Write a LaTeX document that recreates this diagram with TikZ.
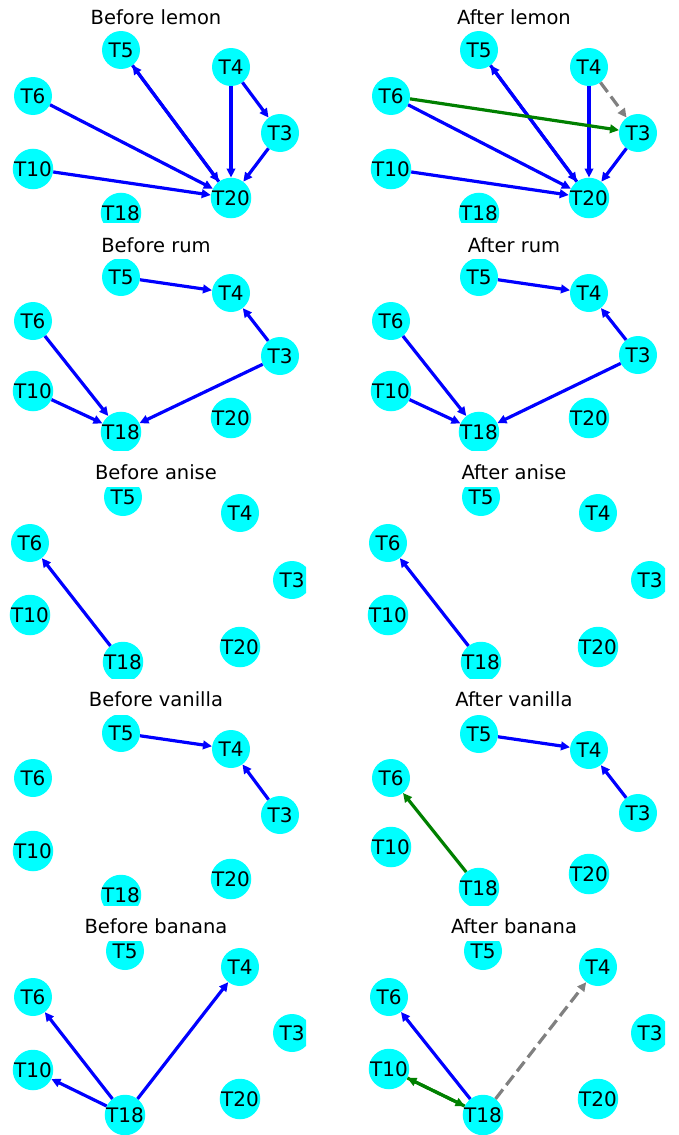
\documentclass[tikz,border=0pt]{standalone}
\usepackage{fontspec}
\setmainfont{DejaVu Sans}
\usetikzlibrary{arrows.meta}

\definecolor{nodecyan}{HTML}{00FFFF}
\definecolor{edgeblue}{HTML}{0000FF}
\definecolor{newgreen}{HTML}{008000}
\definecolor{oldgray}{HTML}{808080}

\begin{document}
\begin{tikzpicture}[
  x=1pt, y=-1pt,
  tnode/.style = {circle, fill=nodecyan, minimum size=38pt, inner sep=0pt, font=\fontsize{20}{24}\selectfont},
  ptitle/.style = {anchor=base, font=\fontsize{19.5}{24}\selectfont},
  edge/.style = {edgeblue, line width=3.2pt, -{Triangle[length=9pt,width=8.5pt]}},
  added/.style = {edge, newgreen},
  removed/.style = {edge, oldgray, dash pattern=on 12pt off 5.5pt}
]
\useasboundingbox (0,0) rectangle (678,1135);

% lemon
\node[ptitle] (tlb) at (156,24) {Before lemon};
\begin{scope}
  \clip (6,31) rectangle (306,222);
  \foreach \n/\x/\y in {T5/121/50, T4/231/67, T6/33/96, T3/280/133, T10/33/169, T20/231/198, T18/121/213}
    \node[tnode] (lb\n) at (\x,\y) {\n};
  \draw[edge] (lbT5) -- (lbT20);
  \draw[edge] (lbT20) -- (lbT5);
  \draw[edge] (lbT4) -- (lbT20);
  \draw[edge] (lbT4) -- (lbT3);
  \draw[edge] (lbT3) -- (lbT20);
  \draw[edge] (lbT6) -- (lbT20);
  \draw[edge] (lbT10) -- (lbT20);
\end{scope}

\node[ptitle] (tla) at (514,24) {After lemon};
\begin{scope}
  \clip (364,31) rectangle (665,222);
  \foreach \n/\x/\y in {T5/479/50, T4/589/67, T6/391/96, T3/638/133, T10/391/169, T20/589/198, T18/479/213}
    \node[tnode] (la\n) at (\x,\y) {\n};
  \draw[edge] (laT5) -- (laT20);
  \draw[edge] (laT20) -- (laT5);
  \draw[edge] (laT4) -- (laT20);
  \draw[edge] (laT3) -- (laT20);
  \draw[edge] (laT6) -- (laT20);
  \draw[edge] (laT10) -- (laT20);
  \draw[added] (laT6) -- (laT3);
  \draw[removed] (laT4) -- (laT3);
\end{scope}

% rum
\node[ptitle] (trb) at (156,252) {Before rum};
\begin{scope}
  \clip (6,259) rectangle (306,450);
  \foreach \n/\x/\y in {T5/121/277, T4/231/293, T6/33/321, T3/280/356, T10/33/391, T20/231/418, T18/121/432}
    \node[tnode] (rb\n) at (\x,\y) {\n};
  \draw[edge] (rbT5) -- (rbT4);
  \draw[edge] (rbT3) -- (rbT4);
  \draw[edge] (rbT6) -- (rbT18);
  \draw[edge] (rbT10) -- (rbT18);
  \draw[edge] (rbT3) -- (rbT18);
\end{scope}

\node[ptitle] (tra) at (514,252) {After rum};
\begin{scope}
  \clip (364,259) rectangle (665,450);
  \foreach \n/\x/\y in {T5/479/277, T4/589/293, T6/391/321, T3/638/355, T10/391/391, T20/589/418, T18/479/432}
    \node[tnode] (ra\n) at (\x,\y) {\n};
  \draw[edge] (raT5) -- (raT4);
  \draw[edge] (raT3) -- (raT4);
  \draw[edge] (raT6) -- (raT18);
  \draw[edge] (raT10) -- (raT18);
  \draw[edge] (raT3) -- (raT18);
\end{scope}

% anise
\node[ptitle] (tab) at (156,479) {Before anise};
\begin{scope}
  \clip (6,487) rectangle (306,678);
  \foreach \n/\x/\y in {T5/123/497, T4/240/513, T6/30/543, T3/292/580, T10/30/615, T20/240/647, T18/123/662}
    \node[tnode] (ab\n) at (\x,\y) {\n};
  \draw[edge] (abT18) -- (abT6);
\end{scope}

\node[ptitle] (taa) at (514,479) {After anise};
\begin{scope}
  \clip (364,487) rectangle (665,678);
  \foreach \n/\x/\y in {T5/481/497, T4/598/513, T6/388/543, T3/650/580, T10/388/615, T20/598/647, T18/481/662}
    \node[tnode] (aa\n) at (\x,\y) {\n};
  \draw[edge] (aaT18) -- (aaT6);
\end{scope}

% vanilla
\node[ptitle] (tvb) at (156,706) {Before vanilla};
\begin{scope}
  \clip (6,715) rectangle (306,905);
  \foreach \n/\x/\y in {T5/121/733, T4/231/749, T6/33/778, T3/280/815, T10/33/851, T20/231/879, T18/121/895}
    \node[tnode] (vb\n) at (\x,\y) {\n};
  \draw[edge] (vbT5) -- (vbT4);
  \draw[edge] (vbT3) -- (vbT4);
\end{scope}

\node[ptitle] (tva) at (514,706) {After vanilla};
\begin{scope}
  \clip (364,715) rectangle (665,905);
  \foreach \n/\x/\y in {T5/479/734, T4/589/750, T6/391/778, T3/638/813, T10/391/847, T20/589/874, T18/479/888}
    \node[tnode] (va\n) at (\x,\y) {\n};
  \draw[edge] (vaT5) -- (vaT4);
  \draw[edge] (vaT3) -- (vaT4);
  \draw[added] (vaT18) -- (vaT6);
\end{scope}

% banana
\node[ptitle] (tnb) at (156,933) {Before banana};
\begin{scope}
  \clip (6,941) rectangle (306,1135);
  \foreach \n/\x/\y in {T5/125/951, T4/240/967, T6/33/997, T3/292/1033, T10/33/1070, T20/240/1099, T18/125/1115}
    \node[tnode] (nb\n) at (\x,\y) {\n};
  \draw[edge] (nbT18) -- (nbT6);
  \draw[edge] (nbT18) -- (nbT10);
  \draw[edge] (nbT18) -- (nbT4);
\end{scope}

\node[ptitle] (tna) at (514,933) {After banana};
\begin{scope}
  \clip (364,941) rectangle (665,1135);
  \foreach \n/\x/\y in {T5/483/951, T4/598/967, T6/389/997, T3/650/1033, T10/389/1069, T20/598/1099, T18/483/1115}
    \node[tnode] (na\n) at (\x,\y) {\n};
  \draw[edge] (naT18) -- (naT6);
  \draw[added] (naT18) -- (naT10);
  \draw[added] (naT10) -- (naT18);
  \draw[removed] (naT18) -- (naT4);
\end{scope}
\end{tikzpicture}
\end{document}
